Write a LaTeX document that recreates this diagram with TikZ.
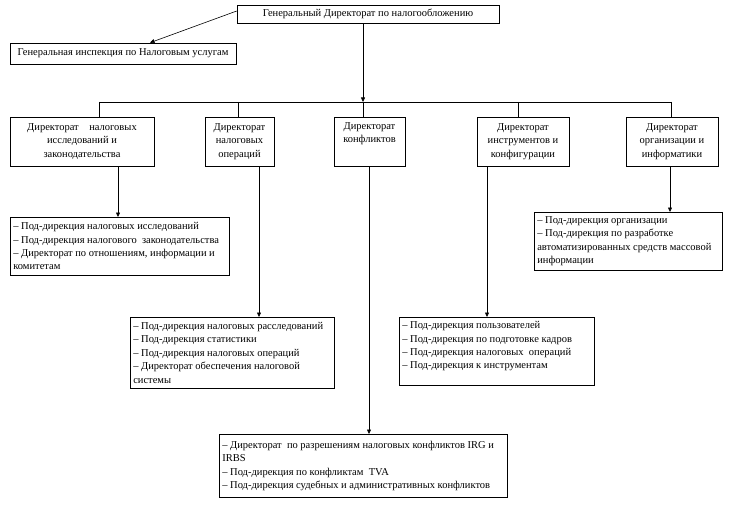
\documentclass[tikz,border=0pt]{standalone}
\usepackage{fontspec}
\setmainfont{Liberation Serif}
\usetikzlibrary{arrows.meta,calc}
\begin{document}
\begin{tikzpicture}[x=1pt,y=-1pt,
 every node/.style={font=\fontsize{10.5}{13.4}\selectfont},
 box/.style={draw, line width=0.6pt, inner sep=2pt, align=center},
 subbox/.style={draw, line width=0.6pt, anchor=north west, inner xsep=3pt, inner ysep=3pt, align=flush left},
 link/.style={line width=0.6pt},
 arr/.style={line width=0.6pt,-{Triangle[length=4.5pt,width=4pt]}}]
\useasboundingbox (0,0) rectangle (730,505);
% top
\node[box, minimum width=262pt, minimum height=18pt] (gd) at (368,14) {Генеральный Директорат по налогообложению};
\node[box, minimum width=226pt, minimum height=21pt] (gi) at (123,53.5) {Генеральная инспекция по Налоговым услугам};
\draw[arr] ([yshift=3pt]gd.west) -- ([xshift=27pt]gi.north);
% second row
\node[box, minimum width=144pt, minimum height=49pt] (b1) at (82,141.5) {Директорат\quad налоговых\\исследований и\\законодательства};
\node[box, minimum width=69pt, minimum height=49pt] (b2) at (239.5,141.5) {Директорат\\налоговых\\операций};
\node[box, minimum width=71pt, minimum height=49pt] (b3) at (369.5,141.5) {Директорат\\конфликтов\\\strut};
\node[box, minimum width=92pt, minimum height=49pt] (b4) at (523,141.5) {Директорат\\инструментов и\\конфигурации};
\node[box, minimum width=92pt, minimum height=49pt] (b5) at (672,141.5) {Директорат\\организации и\\информатики};
% bus
\coordinate (bus) at (363,102);
\coordinate (t1) at (99,102);
\coordinate (t2) at (238,102);
\coordinate (t4) at (518,102);
\coordinate (t5) at (671,102);
\draw[arr] (gd.south -| bus) -- (bus);
\draw[link] (t1) -- (t5);
\draw[link] (t1) -- (t1 |- b1.north);
\draw[link] (t2) -- (t2 |- b2.north);
\draw[link] (bus) -- (bus |- b3.north);
\draw[link] (t4) -- (t4 |- b4.north);
\draw[link] (t5) -- (t5 |- b5.north);
% sub boxes
\node[subbox, text width=213pt, minimum height=58pt] (s1) at (10,217) {– Под-дирекция налоговых исследований\\– Под-дирекция налогового\ \ законодательства\\– Директорат по отношениям, информации и\\комитетам};
\node[subbox, text width=198pt, minimum height=71pt] (s2) at (130,317) {– Под-дирекция налоговых расследований\\– Под-дирекция статистики\\– Под-дирекция налоговых операций\\– Директорат обеспечения налоговой\\системы};
\node[subbox, text width=282pt, minimum height=63pt] (s3) at (219,434) {– Директорат\ \ по разрешениям налоговых конфликтов IRG и\\IRBS\\– Под-дирекция по конфликтам\ \ TVA\\– Под-дирекция судебных и административных конфликтов};
\node[subbox, text width=189pt, minimum height=68pt] (s4) at (399,317) {– Под-дирекция пользователей\\– Под-дирекция по подготовке кадров\\– Под-дирекция налоговых\ \ операций\\– Под-дирекция к инструментам\rule[-12pt]{0pt}{1pt}};
\node[subbox, text width=182pt, minimum height=58pt] (s5) at (534,212) {– Под-дирекция организации\\– Под-дирекция по разработке\\автоматизированных средств массовой\\информации};
% sub arrows
\coordinate (d1) at ([xshift=36pt]b1.south);
\coordinate (d2) at ([xshift=19.5pt]b2.south);
\coordinate (d3) at ([xshift=-0.5pt]b3.south);
\coordinate (d4) at ([xshift=-36pt]b4.south);
\coordinate (d5) at ([xshift=-2pt]b5.south);
\draw[arr] (d1) -- (d1 |- s1.north);
\draw[arr] (d2) -- (d2 |- s2.north);
\draw[arr] (d3) -- (d3 |- s3.north);
\draw[arr] (d4) -- (d4 |- s4.north);
\draw[arr] (d5) -- (d5 |- s5.north);
\end{tikzpicture}
\end{document}
